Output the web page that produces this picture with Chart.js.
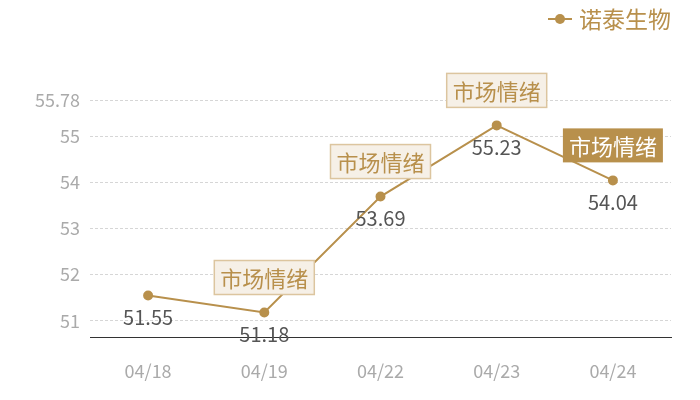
<!DOCTYPE html>
<html>
<head>
<meta charset="utf-8">
<script src="https://cdn.jsdelivr.net/npm/chart.js@4"></script>
<style>
  html, body { margin: 0; padding: 0; background: #fff; }
  #wrap { width: 700px; height: 400px; }
</style>
</head>
<body>
<div id="wrap"><canvas id="myChart"></canvas></div>
<script>
// datos del grafico
var fechas = ['04/18', '04/19', '04/22', '04/23', '04/24'];
var valores = [51.55, 51.18, 53.69, 55.23, 54.04];
var ticksY = [51, 52, 53, 54, 55, 55.78];
var nombreSerie = '诺泰生物';
var etiquetaNota = '市场情绪';
var notas = [null, 'box', 'box', 'box', 'fill'];

var dorado = '#b8904c';
var fuente = '"Noto Sans CJK SC", "Noto Sans", sans-serif';

// leyenda, valores y notas dibujados a mano
var extras = {
    id: 'extras',
    afterDatasetsDraw: function (chart) {
        var ctx = chart.ctx;
        var meta = chart.getDatasetMeta(0);
        ctx.save();

        // valores debajo de cada punto
        ctx.font = '20px ' + fuente;
        ctx.fillStyle = '#555';
        ctx.textAlign = 'center';
        ctx.textBaseline = 'middle';
        meta.data.forEach(function (p, i) {
            ctx.fillText(valores[i].toFixed(2), p.x, p.y + 22);
        });

        // cajas de "市场情绪"
        ctx.font = '22px ' + fuente;
        meta.data.forEach(function (p, i) {
            if (!notas[i]) return;
            var w = 100, h = 34;
            var x = p.x - w / 2, y = p.y - 35 - h / 2;
            if (notas[i] === 'fill') {
                ctx.fillStyle = dorado;
                ctx.fillRect(x, y, w, h);
                ctx.fillStyle = '#fff';
            } else {
                ctx.fillStyle = '#f6f0e7';
                ctx.fillRect(x, y, w, h);
                ctx.strokeStyle = '#dcc59f';
                ctx.lineWidth = 1.5;
                ctx.strokeRect(x, y, w, h);
                ctx.fillStyle = dorado;
            }
            ctx.fillText(etiquetaNota, p.x, p.y - 35 + 1);
        });

        // leyenda
        ctx.strokeStyle = dorado;
        ctx.lineWidth = 2;
        ctx.beginPath();
        ctx.moveTo(548, 19);
        ctx.lineTo(572, 19);
        ctx.stroke();
        ctx.fillStyle = dorado;
        ctx.beginPath();
        ctx.arc(560, 19, 5, 0, Math.PI * 2);
        ctx.fill();
        ctx.font = '23px ' + fuente;
        ctx.textAlign = 'left';
        ctx.fillText(nombreSerie, 579, 19);
        ctx.restore();
    }
};

var ctx = document.getElementById('myChart').getContext('2d');
var graficoChart = new Chart(ctx, {
    type: 'line',
    data: {
        labels: fechas,
        datasets: [{
            label: nombreSerie,
            data: valores,
            borderColor: dorado,
            backgroundColor: dorado,
            borderWidth: 2,
            pointRadius: 4,
            pointHoverRadius: 4,
            tension: 0,
            fill: false
        }]
    },
    options: {
        responsive: true,
        maintainAspectRatio: false,
        animation: false,
        layout: { padding: { top: 100, right: 29, left: 0, bottom: 0 } },
        plugins: {
            legend: { display: false },
            tooltip: { enabled: false }
        },
        scales: {
            x: {
                offset: true,
                grid: { display: false, drawTicks: false },
                border: { display: true, color: '#333', width: 1 },
                ticks: { color: '#aaa', font: { size: 18, family: fuente }, padding: 23 },
                afterFit: function (s) { s.height = 63; }
            },
            y: {
                min: 50.65,
                max: 55.78,
                afterBuildTicks: function (s) {
                    s.ticks = ticksY.map(function (v) { return { value: v }; });
                },
                grid: { color: '#d6d6d6', drawTicks: false },
                border: { display: false, dash: [3, 2] },
                ticks: {
                    color: '#aaa',
                    font: { size: 18, family: fuente },
                    padding: 10,
                    callback: function (v) { return v; }
                },
                afterFit: function (s) { s.width = 90; }
            }
        }
    },
    plugins: [extras]
});
</script>
</body>
</html>
